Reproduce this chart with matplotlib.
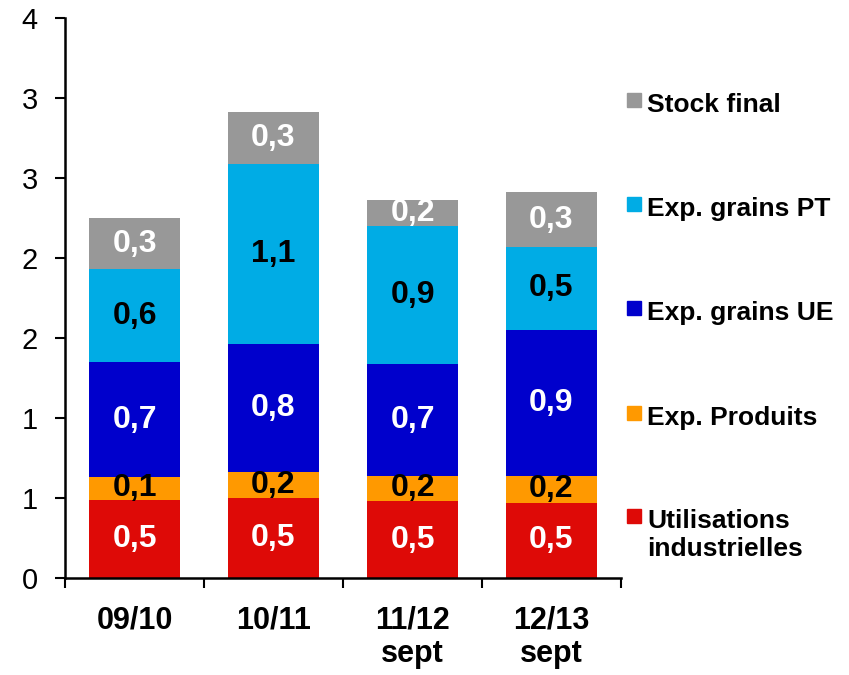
import matplotlib.pyplot as plt
from matplotlib.patches import Rectangle
import numpy as np

plt.rcParams['font.family'] = ['Liberation Sans', 'DejaVu Sans']

campagnes = ['09/10', '10/11', '11/12\nsept', '12/13\nsept']

# Mt, bas de pile vers le haut
util_indus = [0.49, 0.50, 0.48, 0.47]
exp_produits = [0.14, 0.16, 0.16, 0.17]
exp_grains_ue = [0.72, 0.80, 0.70, 0.91]
exp_grains_pt = [0.58, 1.13, 0.86, 0.52]
stock_final = [0.32, 0.32, 0.16, 0.34]

series = [
    ('Utilisations\nindustrielles', util_indus, '#DE0A07', 'white'),
    ('Exp. Produits', exp_produits, '#FF9900', 'black'),
    ('Exp. grains UE', exp_grains_ue, '#0000CC', 'white'),
    ('Exp. grains PT', exp_grains_pt, '#00ACE5', 'black'),
    ('Stock final', stock_final, '#989898', 'white'),
]

fig = plt.figure(figsize=(8.49, 6.75), dpi=100)
W, H = 849, 675
ax = fig.add_axes([65 / W, 1 - 578 / H, (621 - 65) / W, (578 - 18) / H])

x = np.arange(len(campagnes))
bottom = np.zeros(len(campagnes))
for name, vals, color, txt_color in series:
    vals = np.array(vals)
    ax.bar(x, vals, width=0.66, bottom=bottom, color=color, edgecolor='none')
    for xi, b, v in zip(x, bottom, vals):
        ax.text(xi, b + v / 2, f'{v:.1f}'.replace('.', ','), ha='center', va='center',
                fontsize=23, fontweight='bold', color=txt_color)
    bottom += vals

ax.set_xlim(-0.5, 3.5)
ax.set_ylim(0, 3.5)
yt = np.arange(0, 3.51, 0.5)
ax.set_yticks(yt)
# format Excel "0" : arrondi au plus proche, moitié vers le haut
ax.set_yticklabels([str(int(np.floor(v + 0.5))) for v in yt], fontsize=21)

ax.set_xticks(x)
ax.set_xticklabels(campagnes, fontsize=22, fontweight='bold', linespacing=1.15)
ax.set_xticks(np.arange(-0.5, 3.6, 1), minor=True)
ax.tick_params(axis='x', which='major', length=0, pad=20)
ax.tick_params(axis='x', which='minor', length=7, width=1.5, direction='out')
ax.tick_params(axis='y', length=7.5, width=1.5, direction='out', pad=12)

for side in ['top', 'right']:
    ax.spines[side].set_visible(False)
for side in ['left', 'bottom']:
    ax.spines[side].set_linewidth(1.8)

# légende à droite, du haut vers le bas
leg_y = [100, 204, 308, 413, 516]
for (name, vals, color, _), yy in zip(series[::-1], leg_y):
    fig.add_artist(Rectangle((627 / W, 1 - (yy + 7) / H), 14 / W, 14 / H,
                             transform=fig.transFigure, color=color))
    fig.text(647 / W, 1 - (yy - 7) / H, name, ha='left', va='top',
             fontsize=19, fontweight='bold', linespacing=1.2)

fig.savefig('out.png', dpi=100)
